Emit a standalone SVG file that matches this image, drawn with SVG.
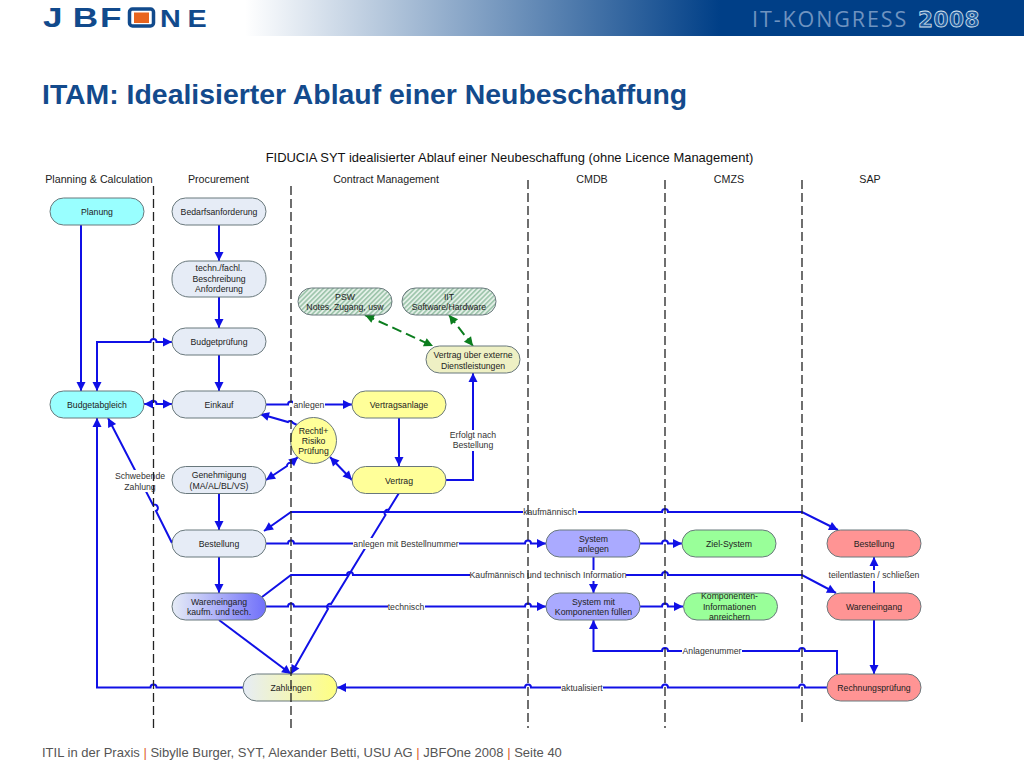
<svg xmlns="http://www.w3.org/2000/svg" width="1024" height="768" viewBox="0 0 1024 768">
<style>
text{font-family:"Liberation Sans",Arial,sans-serif}
.n{stroke:#69787c;stroke-width:1}
.t{font-size:8.700px;fill:#222;text-anchor:middle}
.h{font-size:10.700px;fill:#222;text-anchor:middle}
.l{font-size:8.700px;fill:#333;text-anchor:middle}
.c{fill:none;stroke:#1010e6;stroke-width:2}
.a{marker-end:url(#ar)}
.b{marker-start:url(#ar);marker-end:url(#ar)}
.g{fill:none;stroke:#0b7d1e;stroke-width:2;stroke-dasharray:10 5;marker-start:url(#ag);marker-end:url(#ag)}
.d{stroke:#222;stroke-width:1.300;stroke-dasharray:9 4;fill:none}
.w{fill:#fff}
.s{fill:#e6ecf6}.y{fill:#ffff99}.u{fill:#99ffff}.p{fill:#aaaaff}.e{fill:#99ff99}.r{fill:#ff9494}
.f{font-size:13px;fill:#555}
.o{fill:#e0632a}
.lg{fill:#114a8c;font-weight:700}
</style>
<defs>
<linearGradient id="band" x1="0" x2="1" y1="0" y2="0"><stop offset="0" stop-color="#fff"/><stop offset="1" stop-color="#003f87"/></linearGradient>
<linearGradient id="wg" x1="0" x2="1" y1="0" y2="0"><stop offset="0" stop-color="#e6ecf6"/><stop offset="1" stop-color="#7070fa"/></linearGradient>
<linearGradient id="zg" x1="0" x2="1" y1="0" y2="0"><stop offset="0" stop-color="#e6ecf6"/><stop offset="1" stop-color="#ffff80"/></linearGradient>
<pattern id="ha" width="3.400" height="3.400" patternUnits="userSpaceOnUse" patternTransform="rotate(45)"><rect width="3.400" height="3.400" fill="#e4f0e8"/><rect width="1.600" height="3.400" fill="#9cc4aa"/></pattern>
<marker id="ar" markerUnits="userSpaceOnUse" markerWidth="11" markerHeight="11" refX="9.500" refY="5.500" orient="auto-start-reverse"><path d="M0.500 1L9.500 5.500L0.500 10Z" fill="#1010e6"/></marker>
<marker id="ag" markerUnits="userSpaceOnUse" markerWidth="11" markerHeight="11" refX="9.500" refY="5.500" orient="auto-start-reverse"><path d="M0.500 1L9.500 5.500L0.500 10Z" fill="#0b7d1e"/></marker>
</defs>

<g id="header">
<rect x="245" y="0" width="475" height="36" fill="url(#band)"/>
<rect x="720" y="0" width="304" height="36" fill="#003f87"/>
<text class="lg" transform="translate(0 27) scale(1.300 1)" font-size="27" x="33 56 77">JBF</text>
<rect x="129.500" y="9" width="24" height="17" rx="3" fill="none" stroke="#114a8c" stroke-width="3.500"/>
<rect x="134" y="12.500" width="15" height="10.500" fill="#e8641e"/>
<text class="lg" transform="translate(0 27) scale(1.250 1)" font-size="23" x="128 150">NE</text>
<text x="752" y="27" font-size="21.500" letter-spacing="1.900" fill="#6f93c0" style="font-family:'Open Sans',sans-serif">IT-KONGRESS</text>
<text x="918" y="27" font-size="21.500" font-weight="700" letter-spacing=".5" fill="#1f5a9e" stroke="#d5e2ee" stroke-width=".8" style="font-family:'DejaVu Sans',sans-serif">2008</text>
</g>
<text id="title" x="42" y="104" font-size="28.400" font-weight="700" fill="#134a8c">ITAM: Idealisierter Ablauf einer Neubeschaffung</text>
<text x="509.500" y="162" font-size="12.960" fill="#111" text-anchor="middle">FIDUCIA SYT idealisierter Ablauf einer Neubeschaffung (ohne Licence Management)</text>
<g id="lanes-heads">
<text class="h" x="99" y="183">Planning &amp; Calculation</text>
<text class="h" x="218.500" y="183">Procurement</text>
<text class="h" x="386" y="183">Contract Management</text>
<text class="h" x="592" y="183">CMDB</text>
<text class="h" x="729" y="183">CMZS</text>
<text class="h" x="870" y="183">SAP</text>
</g>

<g id="connectors">
<path class="c a" d="M81 225V391"/>
<path class="c a" d="M219 225V261"/>
<path class="c a" d="M219 297V328"/>
<path class="c a" d="M219 355V391"/>
<path class="c b" d="M97 391V342H150.500a3 3 0 0 1 6 0H172"/>
<path class="c b" d="M144 404H150.500a3 3 0 0 1 6 0H172"/>
<path class="c a" d="M266 404.500H288a3 3 0 0 1 6 0H352"/>
<path class="c a" d="M297 425L293 423a3 3 0 0 0 -5 -1L260 414"/>
<path class="c b" d="M266 480L287 466a3 3 0 0 1 4 -3L298 457"/>
<path class="c b" d="M330 457L352 480"/>
<path class="c a" d="M399 418V466"/>
<path class="c a" d="M446 480H473V373"/>
<path class="g" d="M365 315L433 346"/>
<path class="g" d="M449 315L473 346"/>
<path class="c a" d="M399 493L388.500 510a3 3 0 0 0 -3 5L331 604a3 3 0 0 0 -3 5L291 674"/>
<path class="c a" d="M219 493V530"/>
<path class="c a" d="M219 557V593"/>
<path class="c a" d="M172 543L156 511a3 3 0 0 0 -3 -6L108 418"/>
<path class="c a" d="M243 687.500H156.500a3 3 0 0 0 -6 0H97V418"/>
<path class="c a" d="M219 620L291 674"/>
<path class="c b" d="M264 531L291 512H524.500a3 3 0 0 1 6 0H662a3 3 0 0 1 6 0H802L838 530"/>
<path class="c a" d="M262 597L291 575H347a3 3 0 0 1 6 0H662a3 3 0 0 1 6 0H802L836 593"/>
<path class="c a" d="M266 543.500H288a3 3 0 0 1 6 0H525a3 3 0 0 1 6 0H546"/>
<path class="c a" d="M640 543.500H662a3 3 0 0 1 6 0H682"/>
<path class="c a" d="M593.500 557V593"/>
<path class="c a" d="M266 606.500H288a3 3 0 0 1 6 0H525a3 3 0 0 1 6 0H546"/>
<path class="c a" d="M640 606.500H662a3 3 0 0 1 6 0H683"/>
<path class="c a" d="M837 674V651H805a3 3 0 0 0 -6 0H668a3 3 0 0 0 -6 0H593.500V620"/>
<path class="c a" d="M827 687.500H805a3 3 0 0 0 -6 0H668a3 3 0 0 0 -6 0H531a3 3 0 0 0 -6 0H337"/>
<path class="c a" d="M874 593V557"/>
<path class="c a" d="M874 620V674"/>
<rect class="w" x="293" y="399" width="32" height="11"/><text class="l" x="309" y="407.500">anlegen</text>
<rect class="w" x="115" y="470" width="51" height="22"/><text class="l" x="140" y="479">Schwebende</text><text class="l" x="140" y="489.500">Zahlung</text>
<rect class="w" x="451" y="430" width="46" height="21"/><text class="l" x="473" y="438">Erfolgt nach</text><text class="l" x="473" y="448">Bestellung</text>
<rect class="w" x="523" y="507" width="55" height="11"/><text class="l" x="550" y="515">kaufmännisch</text>
<rect class="w" x="353" y="538" width="106" height="11"/><text class="l" x="406" y="547">anlegen mit Bestellnummer</text>
<rect class="w" x="470" y="570" width="156" height="11"/><text class="l" x="548" y="578">Kaufmännisch und technisch Information</text>
<rect class="w" x="388" y="601" width="37" height="11"/><text class="l" x="406" y="610">technisch</text>
<rect class="w" x="682" y="645" width="60" height="11"/><text class="l" x="712" y="654">Anlagenummer</text>
<rect class="w" x="561" y="682" width="42" height="11"/><text class="l" x="582" y="691">aktualisiert</text>
<rect class="w" x="829" y="570" width="90" height="11"/><text class="l" x="874" y="578">teilentlasten / schließen</text>
</g>

<g id="nodes">
<g id="planung"><rect class="n u" x="50" y="198" width="94" height="27" rx="13.500"/><text class="t" x="97" y="215">Planung</text></g>
<g id="bedarf"><rect class="n s" x="172" y="198" width="94" height="27" rx="13.500"/><text class="t" x="219" y="215">Bedarfsanforderung</text></g>
<g id="techn"><rect class="n s" x="172" y="261" width="94" height="36" rx="17"/><text class="t" x="219" y="271">techn./fachl.</text><text class="t" x="219" y="282">Beschreibung</text><text class="t" x="219" y="292">Anforderung</text></g>
<g id="budgetpruefung"><rect class="n s" x="172" y="328" width="94" height="27" rx="13.500"/><text class="t" x="219" y="345">Budgetprüfung</text></g>
<g id="budgetabgleich"><rect class="n u" x="50" y="391" width="94" height="27" rx="13.500"/><text class="t" x="97" y="407.500">Budgetabgleich</text></g>
<g id="einkauf"><rect class="n s" x="172" y="391" width="94" height="27" rx="13.500"/><text class="t" x="219" y="407.500">Einkauf</text></g>
<g id="genehmigung"><rect class="n s" x="172" y="466.500" width="94" height="27" rx="13.500"/><text class="t" x="219" y="478">Genehmigung</text><text class="t" x="219" y="488.500">(MA/AL/BL/VS)</text></g>
<g id="bestellung-p"><rect class="n s" x="172" y="530" width="94" height="27" rx="13.500"/><text class="t" x="219" y="547">Bestellung</text></g>
<g id="wareneingang-p"><rect class="n" fill="url(#wg)" x="172" y="593" width="94" height="27" rx="13.500"/><text class="t" x="219" y="604.500">Wareneingang</text><text class="t" x="219" y="615">kaufm. und tech.</text></g>
<g id="zahlungen"><rect class="n" fill="url(#zg)" x="243" y="674" width="94" height="27" rx="13.500"/><text class="t" x="291" y="691">Zahlungen</text></g>
<g id="psw"><rect class="n" fill="url(#ha)" x="298" y="288" width="94" height="27" rx="13.500"/><text class="t" x="345" y="299.500">PSW</text><text class="t" x="345" y="309.500">Notes, Zugang,  usw</text></g>
<g id="iit"><rect class="n" fill="url(#ha)" x="402" y="288" width="94" height="27" rx="13.500"/><text class="t" x="449" y="299.500">IIT</text><text class="t" x="449" y="309.500">Software/Hardware</text></g>
<g id="vertrag-extern"><rect class="n" fill="#eef0c4" x="426" y="346" width="94" height="27" rx="13.500"/><text class="t" x="473" y="358">Vertrag über externe</text><text class="t" x="473" y="368.500">Dienstleistungen</text></g>
<g id="vertragsanlage"><rect class="n y" x="352" y="391" width="94" height="27" rx="13.500"/><text class="t" x="399" y="407.500">Vertragsanlage</text></g>
<g id="vertrag"><rect class="n y" x="352" y="466.500" width="94" height="27" rx="13.500"/><text class="t" x="399" y="483.500">Vertrag</text></g>
<g id="rechtl"><circle class="n y" cx="313.500" cy="440.500" r="23"/><text class="t" x="313.500" y="433.500">Rechtl+</text><text class="t" x="313.500" y="443.500">Risiko</text><text class="t" x="313.500" y="453.500">Prüfung</text></g>
<g id="system-anlegen"><rect class="n p" x="546" y="530" width="94" height="27" rx="13.500"/><text class="t" x="593.500" y="541.500">System</text><text class="t" x="593.500" y="551.500">anlegen</text></g>
<g id="system-fuellen"><rect class="n p" x="546" y="593" width="94" height="27" rx="13.500"/><text class="t" x="593.500" y="604.500">System mit</text><text class="t" x="593.500" y="615">Komponenten füllen</text></g>
<g id="ziel"><rect class="n e" x="682" y="530" width="94" height="27" rx="13.500"/><text class="t" x="729" y="546.500">Ziel-System</text></g>
<g id="komponenten"><rect class="n e" x="683.500" y="593" width="94" height="27" rx="13.500"/><text class="t" x="729.500" y="599">Komponenten-</text><text class="t" x="729.500" y="609.500">Informationen</text><text class="t" x="729.500" y="620">anreichern</text></g>
<g id="bestellung-s"><rect class="n r" x="827" y="530" width="94" height="27" rx="13.500"/><text class="t" x="874" y="546.500">Bestellung</text></g>
<g id="wareneingang-s"><rect class="n r" x="827" y="593" width="94" height="27" rx="13.500"/><text class="t" x="874" y="609.500">Wareneingang</text></g>
<g id="rechnung"><rect class="n r" x="827" y="674" width="94" height="27" rx="13.500"/><text class="t" x="874" y="690.500">Rechnungsprüfung</text></g>
</g>

<g id="lanes">
<path class="d" d="M153.500 186V728"/>
<path class="d" d="M291 186V728"/>
<path class="d" d="M528 180V728"/>
<path class="d" d="M665 180V728"/>
<path class="d" d="M802 180V722"/>
</g>

<text id="footer" class="f" x="42" y="757">ITIL in der Praxis <tspan class="o">|</tspan> Sibylle Burger, SYT, Alexander Betti, USU AG <tspan class="o">|</tspan> JBFOne 2008 <tspan class="o">|</tspan> Seite 40</text>
</svg>
